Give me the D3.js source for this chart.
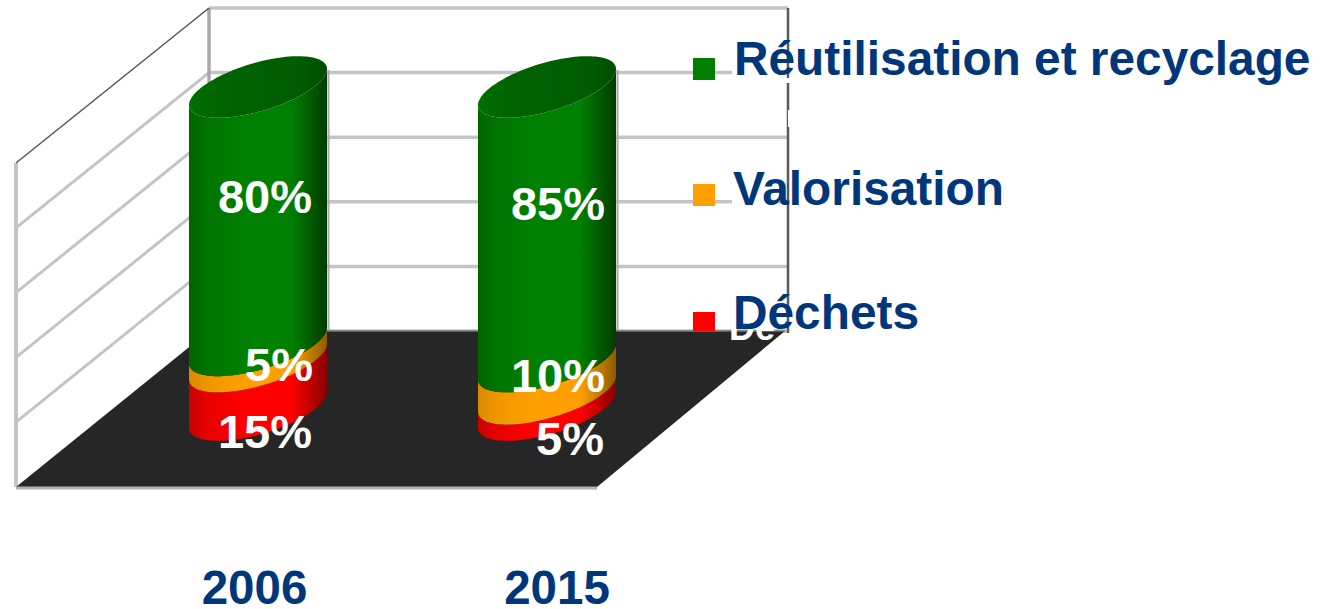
<!DOCTYPE html>
<html><head><meta charset="utf-8">
<script src="https://cdnjs.cloudflare.com/ajax/libs/d3/7.8.5/d3.min.js"></script>
<style>html,body{margin:0;padding:0;background:#fff}svg{display:block}text{font-family:"Liberation Sans",Arial,sans-serif;font-weight:bold}</style>
</head><body><svg id="c" width="1328" height="609"></svg>
<script>
const categories = ["2006", "2015"];
const seriesNames = ["Déchets", "Valorisation", "Réutilisation et recyclage"];
const dechets = [15, 5];
const valorisation = [5, 10];
const reutilisation = [80, 85];
const gridTicks = [0, 20, 40, 60, 80, 100];

const colors = {
  "Déchets": ["#c80000", "#ff0000", "#8a0000"],
  "Valorisation": ["#d88a00", "#ffa000", "#8c5c00"],
  "Réutilisation et recyclage": ["#006400", "#008000", "#003c00"]
};
const navy = "#00377a";
const svg = d3.select("#c");
const defs = svg.append("defs");
seriesNames.forEach((n, i) => {
  const g = defs.append("linearGradient").attr("id", "g" + i);
  [[0, 0], [.14, .5], [.42, 1], [.74, 1], [1, 2]].forEach(([o, k]) => {
    const col = k === .5 ? d3.interpolateRgb(colors[n][0], colors[n][1])(.6) : colors[n][k];
    g.append("stop").attr("offset", o).attr("stop-color", col);
  });
});
const tg = defs.append("linearGradient").attr("id", "gt");
[[0, "#007000"], [.25, "#006200"], [.8, "#005c00"], [1, "#004c00"]].forEach(([o, c]) => tg.append("stop").attr("offset", o).attr("stop-color", c));

// scales
const yBack = d3.scaleLinear().domain([0, 100]).range([331, 8]);
const ySide = d3.scaleLinear().domain([0, 100]).range([487, 163]);
const h = d3.scaleLinear().domain([0, 100]).range([0, 323]);
const x = d3.scalePoint().domain(categories).range([258, 547]);
const backL = 209, backR = 788, frontL = 16, frontR = 597;
const grey = "#c4c4c4";

// walls
const grid = svg.append("g").attr("fill", "none").attr("stroke", grey).attr("stroke-width", 3.5);
gridTicks.forEach(t => {
  grid.append("line").attr("x1", backL).attr("x2", backR).attr("y1", yBack(t)).attr("y2", yBack(t));
  if (t > 0 && t < 100)
    grid.append("line").attr("x1", frontL).attr("x2", backL).attr("y1", ySide(t)).attr("y2", yBack(t)).attr("stroke-width", 3);
});
grid.append("line").attr("x1", backL).attr("x2", backL).attr("y1", yBack(100)).attr("y2", yBack(0)).attr("stroke", "#a8a8a8");
grid.append("line").attr("x1", frontL).attr("x2", frontL).attr("y1", ySide(100)).attr("y2", ySide(0)).attr("stroke-width", 4);
svg.append("line").attr("x1", frontL).attr("y1", ySide(100)).attr("x2", backL).attr("y2", yBack(100)).attr("stroke", "#555").attr("stroke-width", 1.5);
svg.append("line").attr("x1", backR).attr("x2", backR).attr("y1", yBack(100)).attr("y2", yBack(0) + 2).attr("stroke", "#5a5a5a").attr("stroke-width", 2.5);

// floor
svg.append("path").attr("d", d3.line()([[frontL, ySide(0)], [frontR, ySide(0)], [backR - 3, yBack(0)], [backL, yBack(0)]]) + "Z").attr("fill", "#262626");
svg.append("line").attr("x1", frontL).attr("x2", frontR).attr("y1", ySide(0) + 1).attr("y2", ySide(0) + 1).attr("stroke", "#b0b0b0").attr("stroke-width", 3);
svg.append("line").attr("x1", backL).attr("x2", backR - 3).attr("y1", yBack(0)).attr("y2", yBack(0)).attr("stroke", "#777").attr("stroke-width", 1.5);

// gaps left in the grid by the hidden white labels
[[732, 66, 60, 12], [732, 194, 40, 12], [785, 78, 6, 5], [788, 110, 3, 17]].forEach(r => svg.append("rect").attr("x", r[0]).attr("y", r[1]).attr("width", r[2]).attr("height", r[3]).attr("fill", "#fff"));
svg.append("line").attr("x1", backR).attr("x2", backR).attr("y1", 66).attr("y2", 78).attr("stroke", "#5a5a5a").attr("stroke-width", 2.5);
svg.append("text").attr("x", 729).attr("y", 340).attr("font-size", 36).attr("fill", "#fff").text("Dé");

// cylinders
const a = 69, b = 25, k = 18, baseY = 410;
const ts = d3.range(0, 61).map(i => i / 60 * Math.PI);
const curve = (cx, v) => ts.map(t => [cx + a * Math.cos(t), baseY - h(v) + b * Math.sin(t) - k * Math.cos(t)]);
const line = d3.line();
categories.forEach((c, ci) => {
  const cx = x(c);
  const vals = [dechets[ci], valorisation[ci], reutilisation[ci]];
  const total = d3.sum(vals);
  svg.append("line").attr("x1", cx + a + 1.5).attr("x2", cx + a + 1.5).attr("y1", yBack(100) + 62).attr("y2", yBack(0) - 1).attr("stroke", "#aaa").attr("stroke-width", 2);
  let acc = 0;
  vals.forEach((v, i) => {
    const lower = curve(cx, acc), upper = curve(cx, acc + v).reverse();
    svg.append("path").attr("d", line(lower.concat(upper)) + "Z").attr("fill", `url(#g${i})`);
    acc += v;
  });
  const top = ts.map(t => [cx + a * Math.cos(t), baseY - h(total) - b * Math.sin(t) - k * Math.cos(t)]);
  const bot = curve(cx, total).reverse();
  svg.append("path").attr("d", line(top.concat(bot)) + "Z").attr("fill", "url(#gt)");
});

// value labels
const labels = svg.append("g").attr("fill", "#fff").attr("font-size", 47).attr("text-anchor", "end");
const labelPos = [
  { v: reutilisation, by: [213, 220], dx: [54, 58] },
  { v: valorisation, by: [381, 392], dx: [55, 58] },
  { v: dechets, by: [448, 455], dx: [54, 57] }
];
labelPos.forEach(p => categories.forEach((c, i) =>
  labels.append("text").attr("x", x(c) + p.dx[i]).attr("y", p.by[i]).text(p.v[i] + "%")));

// legend
const legendItems = [
  { n: "Réutilisation et recyclage", sq: [58, 22], ty: 75, tx: 734, col: "#008000" },
  { n: "Valorisation", sq: [184, 22], ty: 205, tx: 733, col: "#ffa000" },
  { n: "Déchets", sq: [312, 19], ty: 329, tx: 733, col: "#ff0000" }
];
legendItems.forEach(d => {
  svg.append("rect").attr("x", 693).attr("y", d.sq[0]).attr("width", 22).attr("height", d.sq[1]).attr("fill", d.col);
  svg.append("text").attr("x", d.tx).attr("y", d.ty).attr("font-size", 47.8).attr("fill", navy).text(d.n);
});

// category axis labels
svg.append("g").attr("fill", navy).attr("font-size", 47.5).attr("text-anchor", "middle")
  .selectAll("text").data(categories).join("text")
  .attr("x", (c, i) => [254.5, 557][i]).attr("y", 604).text(c => c);
</script></body></html>
